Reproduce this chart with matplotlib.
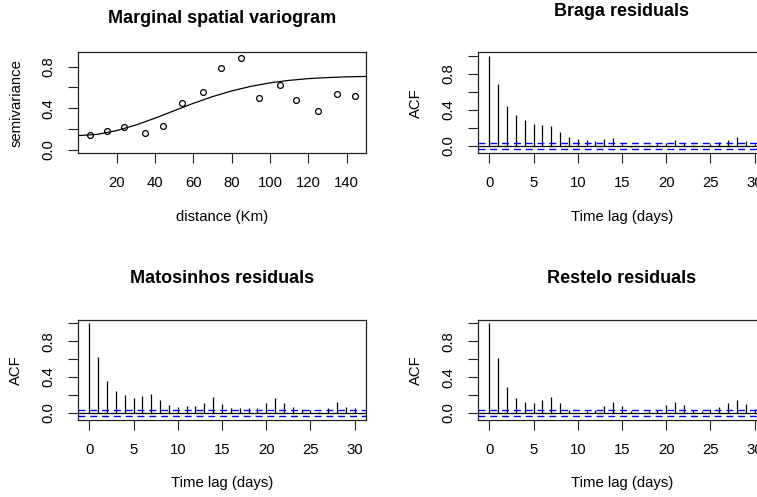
import matplotlib
matplotlib.use("Agg")
import matplotlib.pyplot as plt
import numpy as np

plt.rcParams['font.family'] = ['Liberation Sans', 'DejaVu Sans']

# ---------------- data ----------------
vg_dist = [6.0, 15.0, 24.0, 34.9, 44.4, 53.9, 65.0, 74.3, 84.7, 94.1,
           105.4, 113.7, 125.2, 135.0, 144.3]
vg_gamma = [0.141, 0.183, 0.218, 0.161, 0.225, 0.453, 0.559, 0.790, 0.884,
            0.501, 0.627, 0.479, 0.376, 0.533, 0.520]
# fitted model curve
model_dist = [0, 10, 20, 30, 40, 50, 60, 70, 80, 90, 100, 110, 120, 130, 140, 150]
model_gamma = [0.135, 0.147, 0.183, 0.237, 0.303, 0.375, 0.446, 0.511, 0.566,
               0.610, 0.644, 0.668, 0.685, 0.695, 0.702, 0.706]

lags = list(range(31))
acf_braga = [1.0, 0.685, 0.44, 0.34, 0.29, 0.25, 0.237, 0.226, 0.152, 0.096,
             0.078, 0.067, 0.06, 0.074, 0.089, 0.026, -0.01, 0.005, 0.01, 0.02,
             0.037, 0.067, 0.033, 0.01, 0.01, 0.026, 0.044, 0.07, 0.10, 0.06, 0.02]
acf_matosinhos = [1.0, 0.622, 0.356, 0.248, 0.20, 0.17, 0.189, 0.215, 0.141, 0.085,
                  0.063, 0.074, 0.078, 0.107, 0.178, 0.10, 0.052, 0.048, 0.048, 0.055,
                  0.107, 0.167, 0.111, 0.067, 0.037, 0.033, 0.005, 0.052, 0.122, 0.067, 0.055]
acf_restelo = [1.0, 0.61, 0.295, 0.17, 0.122, 0.111, 0.144, 0.18, 0.107, 0.033,
               0.003, 0.018, 0.03, 0.08, 0.125, 0.08, 0.022, 0.002, 0.02, 0.037,
               0.089, 0.122, 0.089, 0.037, 0.02, 0.04, 0.066, 0.11, 0.15, 0.10, 0.04]
clim_braga = 0.034
clim_matosinhos = 0.036
clim_restelo = 0.033

# ---------------- layout ----------------
W, H = 757, 497
fig = plt.figure(figsize=(W / 100, H / 100), dpi=100)

def px_axes(x0, y0, x1, y1):
    return fig.add_axes([x0 / W, 1 - y1 / H, (x1 - x0) / W, (y1 - y0) / H])

TICK_FS = 10.7
TITLE_FS = 13.0

def style(ax):
    for s in ax.spines.values():
        s.set_linewidth(0.9)
        s.set_color('#222222')
    ax.tick_params(direction='out', length=7.2, width=0.8, pad=9,
                   labelsize=TICK_FS, color='#222222')
    ax.tick_params(axis='y', labelrotation=90)
    for lab in ax.get_yticklabels():
        lab.set_va('center')
        lab.set_ha('right')

def yticks_r(ax, ticks, labels_every=2):
    ax.set_yticks(ticks)
    ax.set_yticklabels([f"{t:.1f}" if i % labels_every == 0 else ""
                        for i, t in enumerate(ticks)])

def labels(ax, title, title_pad_px, xlabel, xlabel_y, ylabel, ylabel_x):
    ax.set_title(title, fontsize=TITLE_FS, fontweight='bold', pad=title_pad_px * 0.72)
    bb = ax.get_position()
    cx = (bb.x0 + bb.x1) / 2
    cy = (bb.y0 + bb.y1) / 2
    fig.text(cx, 1 - xlabel_y / H, xlabel, ha='center', va='center', fontsize=TICK_FS)
    fig.text(ylabel_x / W, cy, ylabel, ha='center', va='center', rotation=90,
             fontsize=TICK_FS)

# ---- variogram ----
ax1 = px_axes(78.3, 52.3, 365.7, 153.3)
ax1.plot(model_dist, model_gamma, color='black', lw=0.9)
ax1.plot(vg_dist, vg_gamma, 'o', mfc='none', mec='black', ms=4.2, mew=0.9)
ax1.set_xlim(0, 150)
ax1.set_ylim(-0.036, 0.939)
ax1.set_xticks([20, 40, 60, 80, 100, 120, 140])
yticks_r(ax1, [0.0, 0.2, 0.4, 0.6, 0.8])
style(ax1)
labels(ax1, "Marginal spatial variogram", 29.6, "distance (Km)", 217,
       "semivariance", 16.7)

def acf_panel(box, acf, clim, ylim):
    ax = px_axes(*box)
    ax.vlines(lags, 0, acf, color='black', lw=0.9)
    ax.axhline(0, color='black', lw=0.9)
    for c in (clim, -clim):
        ax.axhline(c, color='#0000FF', lw=1.0, ls=(0, (5, 3.5)))
    ax.set_xlim(-1.24, 31.24)
    ax.set_ylim(*ylim)
    ax.set_xticks([0, 5, 10, 15, 20, 25, 30])
    yticks_r(ax, [0.0, 0.2, 0.4, 0.6, 0.8, 1.0])
    style(ax)
    return ax

ax2 = acf_panel((478.3, 52.3, 765.7, 153.3), acf_braga, clim_braga, (-0.081, 1.041))
labels(ax2, "Braga residuals", 36.6, "Time lag (days)", 217, "ACF", 415.7)

ax3 = acf_panel((78.3, 320.0, 365.7, 420.3), acf_matosinhos, clim_matosinhos,
                (-0.084, 1.037))
labels(ax3, "Matosinhos residuals", 36.7, "Time lag (days)", 483, "ACF", 15.8)

ax4 = acf_panel((478.3, 320.0, 765.7, 420.3), acf_restelo, clim_restelo,
                (-0.081, 1.037))
labels(ax4, "Restelo residuals", 36.7, "Time lag (days)", 483, "ACF", 415.7)

fig.savefig("out.png", dpi=100)
